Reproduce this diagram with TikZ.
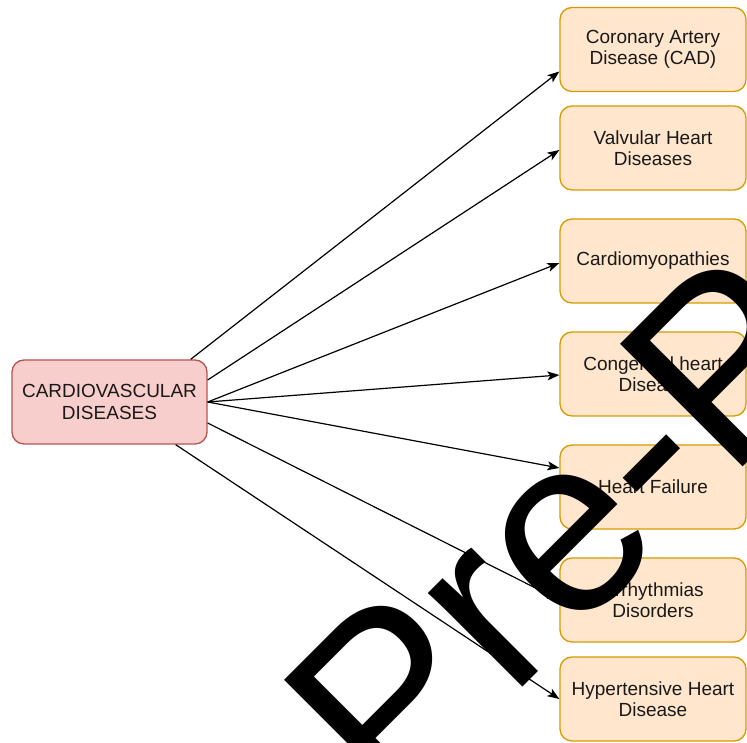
\documentclass[tikz,border=0pt]{standalone}
\usepackage{fontspec}
\setmainfont{Liberation Sans}
\usetikzlibrary{arrows.meta}
\definecolor{pinkfill}{HTML}{F8CECC}
\definecolor{pinkline}{HTML}{B85450}
\definecolor{orfill}{HTML}{FFE6CC}
\definecolor{orline}{HTML}{D79B00}
\tikzset{
  boxtxt/.style={font=\fontsize{19}{21.5}\selectfont, align=center, text=black!90},
  rootbox/.style={boxtxt, draw=pinkline, fill=pinkfill, line width=1.3pt, rounded corners=12pt, minimum width=195pt, minimum height=84pt, inner sep=0pt},
  leafbox/.style={boxtxt, draw=orline, fill=orfill, line width=1.3pt, rounded corners=12pt, minimum width=186pt, minimum height=84pt, inner sep=0pt},
  conn/.style={draw=black, line width=1.2pt, -{Stealth[length=12pt,width=9pt,inset=3pt]}},
  wmark/.style={font=\fontsize{252}{252}\selectfont, text=black, inner sep=0pt, anchor=base west, rotate=45}
}
\begin{document}
\begin{tikzpicture}[x=1pt,y=1pt]
\useasboundingbox (0,0) rectangle (747,743);
\clip (0,0) rectangle (747,743);
\fill[white] (0,0) rectangle (747,743);
\node[rootbox] (cvd) at (109.5,341) {CARDIOVASCULAR\\DISEASES};
\node[leafbox] (b1) at (653,693.5) {Coronary Artery\\Disease (CAD)};
\node[leafbox] (b2) at (653,595) {Valvular Heart\\Diseases};
\node[leafbox] (b3) at (653,482) {Cardiomyopathies};
\node[leafbox] (b4) at (653,369) {Congenital heart\\Disease};
\node[leafbox] (b5) at (653,256) {Heart Failure};
\node[leafbox] (b6) at (653,143) {Arrhythmias\\Disorders};
\node[leafbox] (b7) at (653,44) {Hypertensive Heart\\Disease};
\draw[conn] ([xshift=-17pt]cvd.north east) -- ([yshift=-22pt]b1.west);
\draw[conn] ([yshift=22pt]cvd.east) -- ([yshift=-2pt]b2.west);
\draw[conn] (cvd.east) -- ([yshift=-2pt]b3.west);
\draw[conn] (cvd.east) -- ([yshift=-1pt]b4.west);
\draw[conn] (cvd.east) -- ([yshift=19pt]b5.west);
\draw[conn] ([yshift=-21pt]cvd.east) -- (b6.west);
\draw[conn] ([xshift=-32pt]cvd.south east) -- (b7.west);
\node[wmark] (wm) at (392,-75) {Pre-Proof};
\end{tikzpicture}
\end{document}
